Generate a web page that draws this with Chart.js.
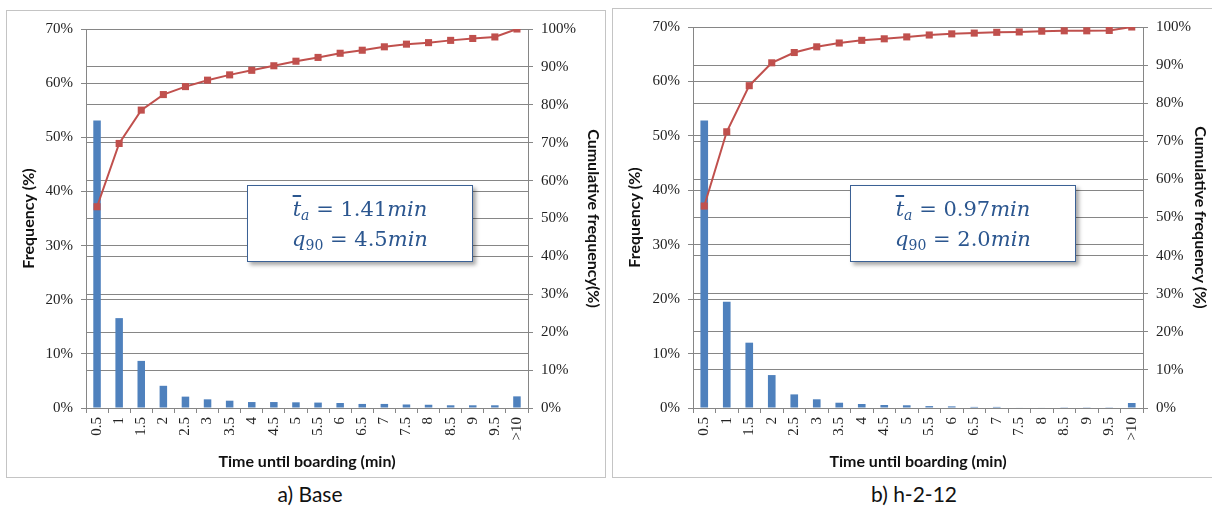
<!DOCTYPE html>
<html>
<head>
<meta charset="utf-8">
<title>Time until boarding</title>
<script src="https://cdn.jsdelivr.net/npm/chart.js@4.4.0/dist/chart.umd.min.js"></script>
<style>
    body {
        margin: 0;
        width: 1212px;
        height: 508px;
        background: #fff;
        position: relative;
        overflow: hidden;
        font-family: Lato, 'Open Sans', sans-serif;
    }
    .panel {
        position: absolute;
        border: 1px solid #c4c4c4;
        background: #fff;
    }
    #panelBase { left: 6px; top: 10px; width: 598px; height: 466px; }
    #panelH212 { left: 612px; top: 8px; width: 599px; height: 468px; }
    .panel canvas { position: absolute; left: 0; top: 0; }
    .stats {
        position: absolute;
        width: 224px;
        height: 67px;
        padding-top: 8px;
        background: #fff;
        border: 1.5px solid #3b6195;
        box-shadow: 3px 3px 4px rgba(0, 0, 0, 0.35);
        font-family: 'DejaVu Serif', serif;
        font-size: 21px;
        line-height: 30px;
        color: #2b568f;
        text-align: center;
    }
    .stats i { font-style: italic; }
    .stats .ov { font-style: italic; text-decoration: overline; }
    .stats sub { font-size: 14px; font-style: italic; vertical-align: -4px; line-height: 0; }
    .stats sub.num { font-style: normal; }
    .caption {
        position: absolute;
        top: 481px;
        font-size: 21px;
        color: #111;
        transform: translateX(-50%);
        white-space: nowrap;
    }
</style>
</head>
<body>

<div class="panel" id="panelBase"><canvas id="chartBase" width="598" height="466"></canvas></div>
<div class="panel" id="panelH212"><canvas id="chartH212" width="599" height="468"></canvas></div>

<div class="stats" style="left:247px; top:185px;">
    <span class="ov">t</span><sub>a</sub> = 1.41<i>min</i><br>
    <i>q</i><sub class="num">90</sub> = 4.5<i>min</i>
</div>
<div class="stats" style="left:850px; top:185px;">
    <span class="ov">t</span><sub>a</sub> = 0.97<i>min</i><br>
    <i>q</i><sub class="num">90</sub> = 2.0<i>min</i>
</div>

<div class="caption" style="left:310px;">a) Base</div>
<div class="caption" style="left:914px;">b) h-2-12</div>

<script>
// categories (minutes, 0.5 min bins)
const timeLabels = ['0.5', '1', '1.5', '2', '2.5', '3', '3.5', '4', '4.5', '5',
    '5.5', '6', '6.5', '7', '7.5', '8', '8.5', '9', '9.5', '>10'];

// a) Base
const baseFrequency = [53.1, 16.6, 8.7, 4.1, 2.1, 1.6, 1.35, 1.1, 1.1, 1.05,
    1.0, 0.92, 0.75, 0.75, 0.65, 0.6, 0.5, 0.5, 0.5, 2.15];
const baseCumulative = [53.1, 69.8, 78.6, 82.7, 84.8, 86.5, 87.9, 89.1, 90.3, 91.5,
    92.5, 93.6, 94.4, 95.3, 96.0, 96.4, 97.0, 97.5, 97.9, 100];

// b) h-2-12
const h212Frequency = [52.8, 19.5, 12.0, 6.05, 2.5, 1.6, 0.97, 0.73, 0.55, 0.5,
    0.35, 0.3, 0.2, 0.2, 0.1, 0.1, 0.05, 0.05, 0.05, 0.92];
const h212Cumulative = [53.0, 72.5, 84.6, 90.6, 93.3, 94.8, 95.8, 96.5, 96.9, 97.4,
    97.9, 98.2, 98.4, 98.6, 98.7, 98.9, 99.0, 99.0, 99.1, 100];

// axis ranges
const frequencyMax = 70;
const cumulativeMax = 100;
const tickStep = 10;

const GRID = '#868686';
const TICK_FONT = { family: 'Liberation Serif', size: 15 };
const TITLE_FONT = { family: 'Lato', size: 16, weight: 'bold' };

function percent(value) {
    return value + '%';
}

function buildChart(canvasId, frequency, cumulative, cumTitle, box) {
    const ctx = document.getElementById(canvasId);
    return new Chart(ctx, {
        type: 'bar',
        data: {
            labels: timeLabels,
            datasets: [{
                type: 'line',
                label: 'Cumulative frequency',
                data: cumulative,
                yAxisID: 'y1',
                borderColor: '#c0504d',
                backgroundColor: '#c0504d',
                borderWidth: 2,
                tension: 0,
                pointStyle: 'rect',
                pointRadius: 5,
                pointBorderWidth: 0,
                pointBackgroundColor: '#c0504d',
                order: 0
            }, {
                type: 'bar',
                label: 'Frequency',
                data: frequency,
                yAxisID: 'y',
                backgroundColor: '#4f81bd',
                barPercentage: 0.34,
                categoryPercentage: 1,
                order: 1
            }]
        },
        options: {
            responsive: false,
            animation: false,
            layout: { padding: { left: 10, top: box.top, right: 0, bottom: 0 } },
            plugins: {
                legend: { display: false },
                tooltip: { enabled: false }
            },
            scales: {
                x: {
                    offset: true,
                    grid: { offset: true, drawOnChartArea: false, color: GRID, tickLength: 5 },
                    border: { color: GRID },
                    ticks: {
                        autoSkip: false,
                        minRotation: 90,
                        maxRotation: 90,
                        padding: 4,
                        color: '#222',
                        font: TICK_FONT
                    },
                    title: { display: true, text: 'Time until boarding (min)', color: '#111', font: TITLE_FONT, padding: { top: 2, bottom: 6 } },
                    afterFit: function(scale) { scale.height = box.xHeight; }
                },
                y: {
                    position: 'left',
                    min: 0,
                    max: frequencyMax,
                    grid: { color: GRID, tickLength: 5 },
                    border: { color: GRID },
                    ticks: { stepSize: tickStep, callback: percent, padding: 8, color: '#222', font: TICK_FONT },
                    title: { display: true, text: 'Frequency (%)', color: '#111', font: TITLE_FONT, padding: 2 },
                    afterFit: function(scale) { scale.width = box.yWidth; }
                },
                y1: {
                    position: 'right',
                    min: 0,
                    max: cumulativeMax,
                    grid: { color: GRID, tickLength: 5 },
                    border: { color: GRID },
                    ticks: { stepSize: tickStep, callback: percent, padding: 8, color: '#222', font: TICK_FONT },
                    title: { display: true, text: cumTitle, color: '#111', font: TITLE_FONT, padding: 2 },
                    afterFit: function(scale) { scale.width = box.y1Width; }
                }
            }
        }
    });
}

document.addEventListener('DOMContentLoaded', function() {
    buildChart('chartBase', baseFrequency, baseCumulative, 'Cumulative frequency(%)',
        { top: 18, xHeight: 69, yWidth: 69, y1Width: 77 });
    buildChart('chartH212', h212Frequency, h212Cumulative, 'Cumulative frequency (%)',
        { top: 18, xHeight: 69, yWidth: 70, y1Width: 69 });
});
</script>
</body>
</html>
